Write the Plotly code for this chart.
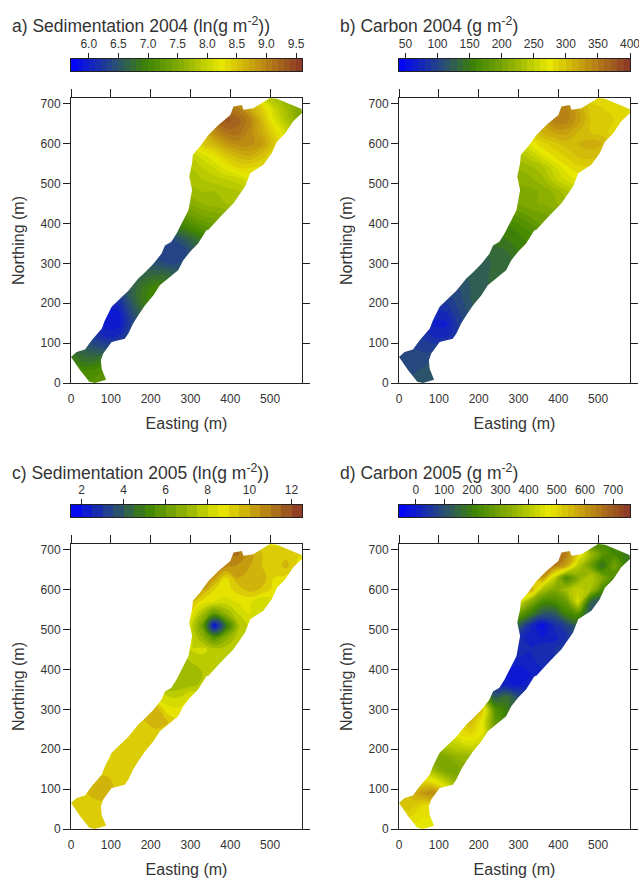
import plotly.graph_objects as go

# Measured sample rows: (northing, first easting in the row); samples every 30 m
ROW_NORTHING = [0,30,60,90,120,150,180,210,240,270,300,330,360,390,420,450,480,510,540,570,600,630,660,690,720]
ROW_FIRST_E  = [30,0,0,30,60,60,90,120,150,150,180,210,240,270,270,270,300,270,300,300,330,330,360,390,480]
EASTING = list(range(0, 630, 30))

SED04 = [
 [7.1,7.15,7.2],[7.0,7.0,7.05,7.1],[6.9,6.75,6.75,6.85],[6.55,6.45,6.4,6.5],
 [6.2,6.05,6.1,6.4],[6.1,5.95,5.95,6.3,6.6],[5.95,6.0,6.4,6.7],[6.2,6.55,6.85,7.0],
 [6.6,6.8,6.95,6.9],[6.6,6.65,6.7,6.7,6.6],[6.5,6.45,6.4,6.4,6.4],[6.35,6.3,6.3,6.45],
 [6.35,6.45,6.65,6.85],[6.85,7.0,7.15,7.25],[7.1,7.3,7.4,7.45,7.5],[7.4,7.5,7.6,7.65,7.7,7.75],
 [7.65,7.7,7.7,7.75,7.8,7.9],[7.7,7.75,7.8,7.85,7.9,7.95,8.1],[7.8,7.9,8.0,8.15,8.3,8.3,8.25],
 [7.9,8.05,8.2,8.4,8.55,8.6,8.45,8.3],[8.4,8.55,8.75,8.85,8.85,8.7,8.4,8.15],
 [8.5,8.85,9.05,9.05,8.85,8.6,8.3,8.0],[9.0,9.25,9.15,8.9,8.5,8.1,7.8,7.5],
 [9.0,8.9,8.6,8.35,7.95,7.7,7.45,7.3],[7.9,7.7,7.5]]

CARB04 = [
 [112,112,115],[108,108,112,115],[102,106,106,110],[100,95,95,100],
 [88,76,76,95],[82,68,68,95,110],[76,82,100,115],[95,105,120,128],
 [110,120,128,132],[118,122,128,132,138],[122,126,132,138,142],[130,135,140,150],
 [145,150,155,165],[155,165,175,188],[178,182,192,198,202],[197,202,207,212,217,227],
 [207,207,212,222,237,247],[212,212,217,227,247,262,272],[222,227,237,257,277,287,287],
 [237,247,267,282,292,302,305,300],[272,287,297,305,310,315,310,295],
 [292,312,322,325,310,300,295,285],[322,347,345,325,300,295,290,285],
 [347,345,320,295,290,285,285,285],[285,285,285]]

SED05 = [
 [9.2,9.2,9.2],[9.2,9.2,9.2,9.2],[9.2,9.2,9.2,9.3],[9.3,9.8,9.8,9.3],
 [9.7,9.7,9.2,9.2],[9.2,9.2,9.2,9.2,9.2],[8.9,9.2,9.2,9.2],[9.2,9.2,9.2,9.2],
 [9.2,9.2,9.3,9.2],[9.2,9.4,9.8,9.6,9.0],[10,10,8.7,8.6,8.6],[8.5,8.2,8.0,8.6],
 [7.0,7.2,7.4,7.6],[7.2,7.0,7.5,7.7],[7.2,7.5,7.7,7.8,8.0],[7.8,8.0,8.2,7.7,7.8,7.9],
 [8.2,7.0,5.6,6.8,7.8,8.2],[8.4,8.2,6.2,2.0,4.7,7.4,8.2],[8.8,7.4,5.8,7.0,8.0,8.5,8.3],
 [9.5,8.8,8.5,8.3,8.6,8.6,8.0,8.3],[10.0,9.0,8.8,9.2,9.7,9.4,8.8,8.4],
 [10.4,10.2,9.0,10,9.9,9.8,9.0,8.8],[10.8,10.7,10.4,10,9.5,9.1,9.7,8.8],
 [11,11.1,10.2,9.5,9.2,9.3,9.1,8.8],[8.9,8.9,8.9]]

CARB05 = [
 [480,480,480],[510,500,480,480],[530,530,500,500],[550,600,620,520],
 [500,470,400,330],[420,350,300,310,330],[300,320,350,350],[400,420,440,420],
 [480,500,460,300],[500,550,470,280,200],[600,520,250,190,120],[300,130,170,100],
 [40,10,0,20],[-10,-20,0,20],[30,10,10,30,40],[30,40,20,40,40,60],
 [30,10,0,10,40,100],[200,130,30,-30,30,80,130],[280,200,120,120,210,240,110],
 [450,330,230,230,280,450,150,100],[580,380,320,370,420,380,230,150],
 [500,600,420,230,330,400,320,230],[620,640,580,400,300,170,300,200],
 [680,640,500,370,260,220,190,130],[230,220,210]]

# Site outline, from the top of the site down each bank to the bottom edge
LEFT_BANK_E = [500,475,458,433,429,408,400,370,345,324,306,304,297,304,301,295,282,265,252,236,227,207,186,169,144,123,102,85,77,52,35,14,0,23,46,60]
LEFT_BANK_N = [714.6,700,689,685,697,693,672,647,622,593,572,551,518,484,467,434,408,375,354,345,324,299,278,262,231,212,191,157,136,107,84,78,65,32,3,0]
RIGHT_BANK_E = [500,517,579,580,558,538,517,504,483,450,437,408,375,345,340,319,299,282,269,244,223,207,186,169,156,144,135,102,81,75,77,88,73,60]
RIGHT_BANK_N = [714.6,713,687,677,656,626,605,576,547,526,493,451,417,384,383,350,329,308,283,262,245,220,195,170,149,124,111,103,74,57,36,8,3,0]

TITLES = ["a) Sedimentation 2004 (ln(g m<sup>-2</sup>))", "b) Carbon 2004 (g m<sup>-2</sup>)",
          "c) Sedimentation 2005 (ln(g m<sup>-2</sup>))", "d) Carbon 2005 (g m<sup>-2</sup>)"]
SERIES = [SED04, CARB04, SED05, CARB05]
LEVELS = [(5.7, 9.6, 0.1), (40, 400, 10), (1.5, 12.5, 0.5), (-60, 760, 20)]
BAR_TICKS = [[6.0,6.5,7.0,7.5,8.0,8.5,9.0,9.5], [50,100,150,200,250,300,350,400],
             [2,4,6,8,10,12], [0,100,200,300,400,500,600,700]]
BAR_FORMAT = [".1f", "d", "d", "d"]
X_TICKS = [0,100,200,300,400,500]
Y_TICKS = [0,100,200,300,400,500,600,700]
X_RANGE = [0, 580]
Y_RANGE = [0, 714.6]

COLORS = [[0,"#0000ff"],[0.2,"#2a5070"],[0.33,"#3f8500"],[0.5,"#94b400"],[0.65,"#e8e800"],[0.8,"#c49a10"],[1,"#8b3528"]]
INK = "#333333"
AXIS = "#222222"
W, H = 639, 880
LEFTS = [71, 399, 71, 399]
TOPS = [98, 98, 544, 544]
BOTTOMS = [383, 383, 829, 829]
BAR_TOPS = [59, 59, 505, 505]
BAR_BOTTOMS = [71, 71, 517, 517]
TITLE_Y = [25, 25, 472, 472]
TITLE_X = [10, 338, 10, 338]
PW = 231
TICK_FONT = dict(family="Liberation Sans", size=12, color=INK)
LABEL_FONT = dict(family="Liberation Sans", size=16, color=INK)

def grid(rows):
    z = []
    for first, vals in zip(ROW_FIRST_E, rows):
        r = [None] * len(EASTING)
        i0 = EASTING.index(first)
        r[i0:i0 + len(vals)] = vals
        z.append(r)
    return z

fig = go.Figure()
layout = {}
for i in range(4):
    n = i + 1
    xa, ya, xb = f"x{n}", f"y{n}", f"x{n+4}"
    xc, yc = f"x{n+8}", f"y{n+4}"
    lo, hi, step = LEVELS[i]
    fig.add_trace(go.Contour(
        x=EASTING, y=ROW_NORTHING, z=grid(SERIES[i]), xaxis=xa, yaxis=ya,
        connectgaps=True, zmin=lo, zmax=hi, colorscale=COLORS, hoverinfo="skip", showscale=False,
        contours=dict(coloring="fill", start=lo, end=hi, size=step, showlines=False),
        line=dict(width=0, smoothing=1.3)))
    # white cover outside the site banks
    for be, bn, side in ((LEFT_BANK_E, LEFT_BANK_N, -20), (RIGHT_BANK_E, RIGHT_BANK_N, 620)):
        fig.add_trace(go.Scatter(x=be + [be[-1], side, side, be[0]], y=bn + [-20, -20, 740, 740],
                                 xaxis=xa, yaxis=ya, mode="lines", line=dict(width=0),
                                 fill="toself", fillcolor="white", hoverinfo="skip", showlegend=False))
    fig.add_trace(go.Scatter(x=[None], y=[None], xaxis=xb, yaxis=ya, showlegend=False, hoverinfo="skip"))
    # colour key with its levels
    count = int(round((hi - lo) / step))
    mids = [lo + step * (k + 0.5) for k in range(count)]
    fig.add_trace(go.Heatmap(x=mids, y=[0], z=[mids], xaxis=xc, yaxis=yc, zmin=lo, zmax=hi,
                             colorscale=COLORS, showscale=False, hoverinfo="skip"))
    dom_x = [LEFTS[i]/W, (LEFTS[i]+PW)/W]
    dom_y = [1-BOTTOMS[i]/H, 1-TOPS[i]/H]
    layout[f"xaxis{n}"] = dict(domain=dom_x, range=X_RANGE, side="top", anchor=ya, showgrid=False, zeroline=False,
                               showline=True, mirror=True, linecolor=AXIS, linewidth=1,
                               ticks="outside", ticklen=8, tickwidth=1, tickcolor=AXIS,
                               tickvals=X_TICKS, showticklabels=False)
    layout[f"xaxis{n+4}"] = dict(domain=dom_x, range=X_RANGE, overlaying=xa, side="bottom", anchor=ya,
                                 showgrid=False, zeroline=False, showline=False, ticks="",
                                 tickvals=X_TICKS, ticklabelstandoff=7, tickfont=TICK_FONT,
                                 title=dict(text="Easting (m)", standoff=12, font=LABEL_FONT))
    layout[f"yaxis{n}"] = dict(domain=dom_y, range=Y_RANGE, anchor=xa, showgrid=False, zeroline=False,
                               showline=True, mirror="ticks", linecolor=AXIS, linewidth=1,
                               ticks="outside", ticklen=7, tickwidth=1, tickcolor=AXIS,
                               tickvals=Y_TICKS, tickfont=TICK_FONT,
                               title=dict(text="Northing (m)", standoff=11, font=LABEL_FONT))
    layout[f"xaxis{n+8}"] = dict(domain=dom_x, range=[lo, hi], side="top", anchor=yc, showgrid=False, zeroline=False,
                                 showline=True, mirror=True, linecolor=AXIS, linewidth=1,
                                 ticks="outside", ticklen=5, tickwidth=1, tickcolor=AXIS,
                                 tickvals=BAR_TICKS[i], tickformat=BAR_FORMAT[i], tickfont=TICK_FONT,
                                 ticklabeloverflow="allow")
    layout[f"yaxis{n+4}"] = dict(domain=[1-BAR_BOTTOMS[i]/H, 1-BAR_TOPS[i]/H], range=[-0.5, 0.5], anchor=xc,
                                 showgrid=False, zeroline=False, showline=True, mirror=True,
                                 linecolor=AXIS, linewidth=1, ticks="", showticklabels=False)

annotations = [dict(text=TITLES[i], xref="paper", yref="paper", x=TITLE_X[i]/W, y=1-TITLE_Y[i]/H,
                    xanchor="left", yanchor="middle", showarrow=False,
                    font=dict(family="Liberation Sans", size=17.5, color=INK)) for i in range(4)]

fig.update_layout(width=W, height=H, margin=dict(l=0, r=0, t=0, b=0, autoexpand=False),
                  paper_bgcolor="white", plot_bgcolor="white",
                  showlegend=False, annotations=annotations, **layout)
fig.write_html("out.html", config=dict(displayModeBar=False), post_script="document.body.style.margin='0';")
